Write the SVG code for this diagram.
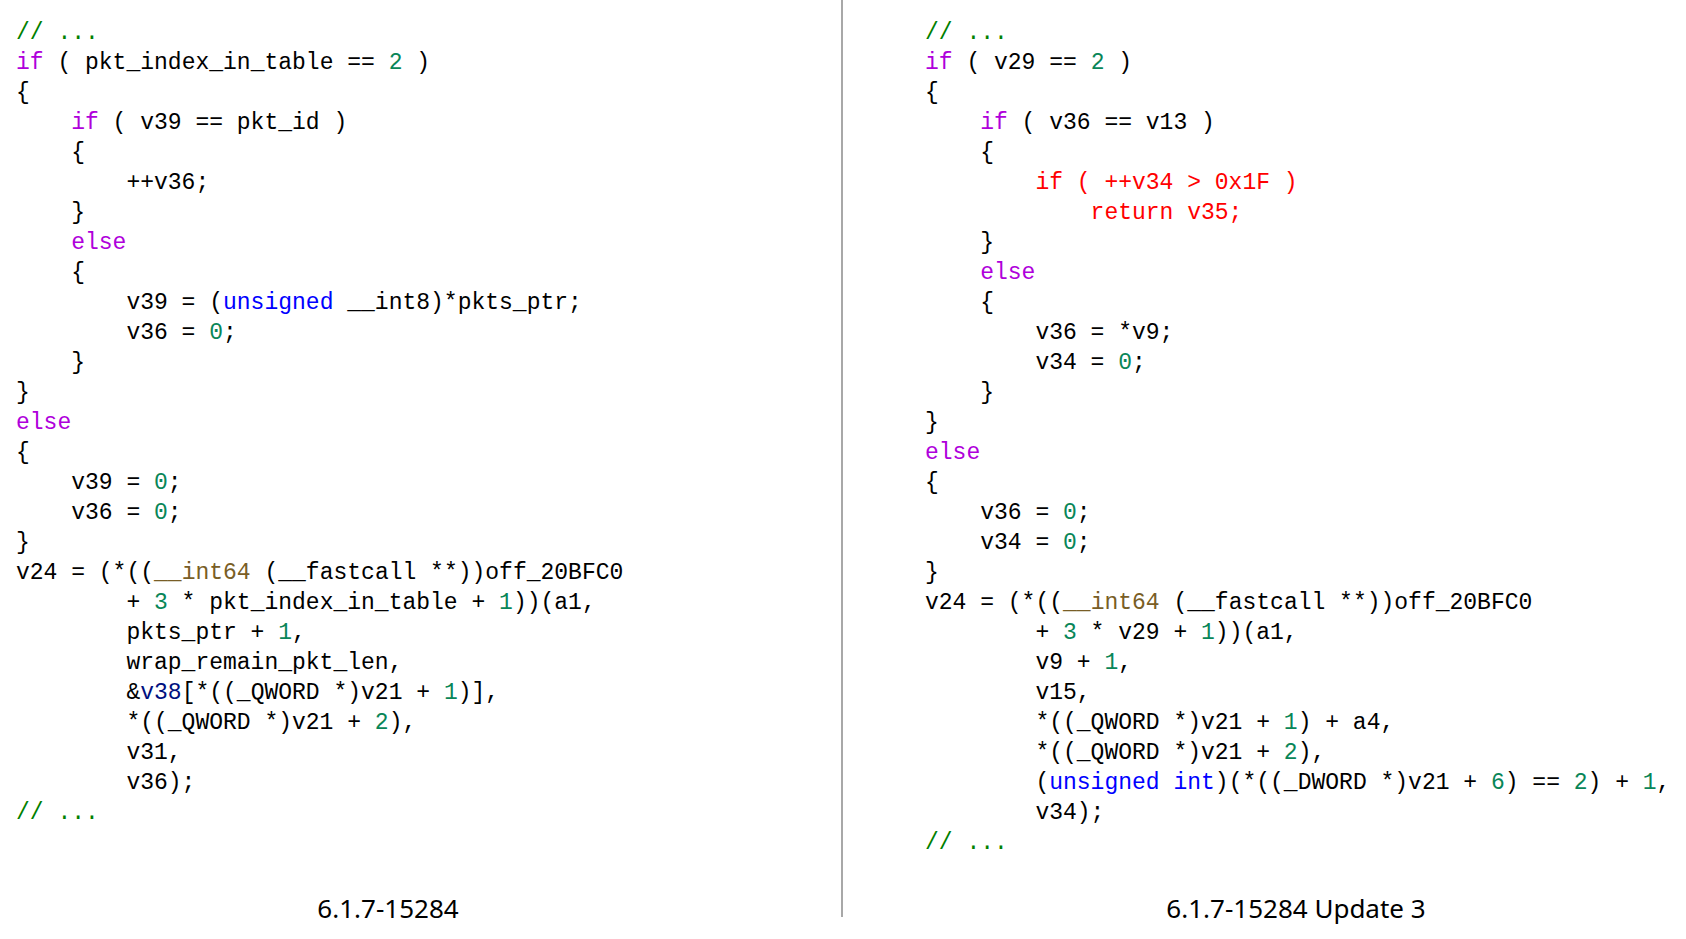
<svg xmlns="http://www.w3.org/2000/svg" width="1686" height="939" viewBox="0 0 1686 939">
<style>
  .code { font-family: "Liberation Mono", "DejaVu Sans Mono", monospace; font-size: 23px; fill: #000000; white-space: pre; }
  .k { fill: #AF00DB; }
  .n { fill: #098658; }
  .c { fill: #008000; }
  .t { fill: #0000FF; }
  .f { fill: #795E26; }
  .v { fill: #001080; }
  .r { fill: #FF0000; }
  .cap { font-family: "Noto Sans", "Open Sans", sans-serif; font-size: 26px; fill: #000000; text-anchor: middle; }
</style>
<rect x="0" y="0" width="1686" height="939" fill="#ffffff"/>
<line id="divider" x1="842" y1="0" x2="842" y2="917" stroke="#a8a8a8" stroke-width="2"/>

<g id="left-code" class="code" xml:space="preserve">
  <text x="16" y="39"><tspan class="c">// ...</tspan></text>
  <text x="16" y="69"><tspan class="k">if</tspan> ( pkt_index_in_table == <tspan class="n">2</tspan> )</text>
  <text x="16" y="99">{</text>
  <text x="71.2" y="129"><tspan class="k">if</tspan> ( v39 == pkt_id )</text>
  <text x="71.2" y="159">{</text>
  <text x="126.4" y="189">++v36;</text>
  <text x="71.2" y="219">}</text>
  <text x="71.2" y="249"><tspan class="k">else</tspan></text>
  <text x="71.2" y="279">{</text>
  <text x="126.4" y="309">v39 = (<tspan class="t">unsigned</tspan> __int8)*pkts_ptr;</text>
  <text x="126.4" y="339">v36 = <tspan class="n">0</tspan>;</text>
  <text x="71.2" y="369">}</text>
  <text x="16" y="399">}</text>
  <text x="16" y="429"><tspan class="k">else</tspan></text>
  <text x="16" y="459">{</text>
  <text x="71.2" y="489">v39 = <tspan class="n">0</tspan>;</text>
  <text x="71.2" y="519">v36 = <tspan class="n">0</tspan>;</text>
  <text x="16" y="549">}</text>
  <text x="16" y="579">v24 = (*((<tspan class="f">__int64</tspan> (__fastcall **))off_20BFC0</text>
  <text x="126.4" y="609">+ <tspan class="n">3</tspan> * pkt_index_in_table + <tspan class="n">1</tspan>))(a1,</text>
  <text x="126.4" y="639">pkts_ptr + <tspan class="n">1</tspan>,</text>
  <text x="126.4" y="669">wrap_remain_pkt_len,</text>
  <text x="126.4" y="699">&amp;<tspan class="v">v38</tspan>[*((_QWORD *)v21 + <tspan class="n">1</tspan>)],</text>
  <text x="126.4" y="729">*((_QWORD *)v21 + <tspan class="n">2</tspan>),</text>
  <text x="126.4" y="759">v31,</text>
  <text x="126.4" y="789">v36);</text>
  <text x="16" y="819"><tspan class="c">// ...</tspan></text>
</g>

<g id="right-code" class="code" xml:space="preserve">
  <text x="925" y="39"><tspan class="c">// ...</tspan></text>
  <text x="925" y="69"><tspan class="k">if</tspan> ( v29 == <tspan class="n">2</tspan> )</text>
  <text x="925" y="99">{</text>
  <text x="980.2" y="129"><tspan class="k">if</tspan> ( v36 == v13 )</text>
  <text x="980.2" y="159">{</text>
  <text x="1035.4" y="189" class="r">if ( ++v34 &gt; 0x1F )</text>
  <text x="1090.6" y="219" class="r">return v35;</text>
  <text x="980.2" y="249">}</text>
  <text x="980.2" y="279"><tspan class="k">else</tspan></text>
  <text x="980.2" y="309">{</text>
  <text x="1035.4" y="339">v36 = *v9;</text>
  <text x="1035.4" y="369">v34 = <tspan class="n">0</tspan>;</text>
  <text x="980.2" y="399">}</text>
  <text x="925" y="429">}</text>
  <text x="925" y="459"><tspan class="k">else</tspan></text>
  <text x="925" y="489">{</text>
  <text x="980.2" y="519">v36 = <tspan class="n">0</tspan>;</text>
  <text x="980.2" y="549">v34 = <tspan class="n">0</tspan>;</text>
  <text x="925" y="579">}</text>
  <text x="925" y="609">v24 = (*((<tspan class="f">__int64</tspan> (__fastcall **))off_20BFC0</text>
  <text x="1035.4" y="639">+ <tspan class="n">3</tspan> * v29 + <tspan class="n">1</tspan>))(a1,</text>
  <text x="1035.4" y="669">v9 + <tspan class="n">1</tspan>,</text>
  <text x="1035.4" y="699">v15,</text>
  <text x="1035.4" y="729">*((_QWORD *)v21 + <tspan class="n">1</tspan>) + a4,</text>
  <text x="1035.4" y="759">*((_QWORD *)v21 + <tspan class="n">2</tspan>),</text>
  <text x="1035.4" y="789">(<tspan class="t">unsigned</tspan> <tspan class="t">int</tspan>)(*((_DWORD *)v21 + <tspan class="n">6</tspan>) == <tspan class="n">2</tspan>) + <tspan class="n">1</tspan>,</text>
  <text x="1035.4" y="819">v34);</text>
  <text x="925" y="849"><tspan class="c">// ...</tspan></text>
</g>

<g id="captions">
  <text id="caption-left" class="cap" x="388" y="918">6.1.7-15284</text>
  <text id="caption-right" class="cap" x="1296" y="918">6.1.7-15284 Update 3</text>
</g>
</svg>
